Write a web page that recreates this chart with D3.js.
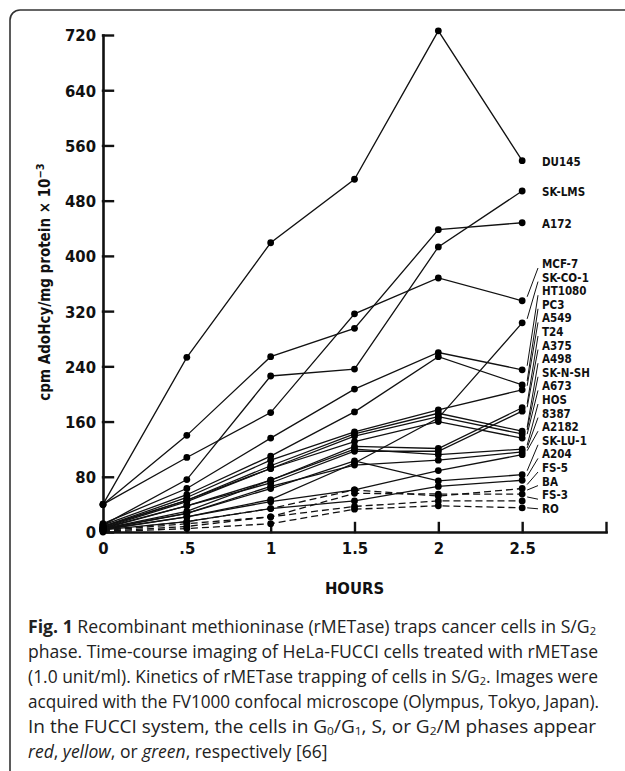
<!DOCTYPE html>
<html>
<head>
<meta charset="utf-8">
<script src="https://cdn.jsdelivr.net/npm/d3@7"></script>
<style>
  html, body { margin: 0; padding: 0; background: #fff; }
  svg { display: block; }
  .ax { font-family: "Liberation Sans Narrow", "DejaVu Sans Condensed", "Arial Narrow", sans-serif; font-stretch: condensed; font-weight: bold; fill: #111; }
  .cap { font-family: "Open Sans", "Noto Sans", sans-serif; fill: #222; }
</style>
</head>
<body>
<svg id="chart" width="625" height="771"></svg>
<script>
// ---- data ----
const hours     = [0, 0.5, 1, 1.5, 2, 2.5];
const hourTicks = [0, 0.5, 1, 1.5, 2, 2.5, 3];
const hourTickLabels = ["0", ".5", "1", "1.5", "2", "2.5", ""];
const yTicks    = [0, 80, 160, 240, 320, 400, 480, 560, 640, 720];

// cpm AdoHcy/mg protein x 10^-3 at each hour
const DU145   = [40, 253, 419, 511, 726, 538];
const SK_LMS  = [10, 76, 226, 236, 413, 494];
const A172    = [40, 140, 254, 295, 438, 448];
const MCF_7   = [40, 108, 173, 316, 368, 335];
const SK_CO_1 = [4, 22, 47, 100, 165, 303];
const HT1080  = [12, 63, 136, 207, 260, 235];
const PC3     = [10, 54, 110, 174, 254, 213];
const A549    = [8, 50, 104, 145, 177, 206];
const T24     = [6, 38, 75, 124, 121, 180];
const A375    = [5, 38, 71, 117, 117, 175];
const A498    = [8, 46, 96, 142, 172, 146];
const SK_N_SH = [7, 46, 92, 139, 167, 142];
const A673    = [6, 44, 92, 131, 160, 136];
const HOS     = [5, 30, 75, 120, 112, 120];
const C8387   = [4, 27, 66, 97, 104, 116];
const A2182   = [3, 22, 44, 61, 89, 112];
const SK_LU_1 = [5, 27, 63, 103, 74, 83];
const A204    = [3, 15, 34, 45, 66, 75];
const FS_5    = [2, 15, 34, 61, 52, 63];
const BA      = [2, 12, 22, 56, 55, 55];
const FS_3    = [1, 8, 22, 37, 45, 45];
const RO      = [0, 5, 12, 33, 38, 35];

const cellLines = ["DU145", "SK-LMS", "A172", "MCF-7", "SK-CO-1", "HT1080", "PC3", "A549", "T24",
  "A375", "A498", "SK-N-SH", "A673", "HOS", "8387", "A2182", "SK-LU-1", "A204", "FS-5", "BA", "FS-3", "RO"];
const values = [DU145, SK_LMS, A172, MCF_7, SK_CO_1, HT1080, PC3, A549, T24, A375, A498, SK_N_SH,
  A673, HOS, C8387, A2182, SK_LU_1, A204, FS_5, BA, FS_3, RO];
const dashedLines = ["FS-5", "BA", "FS-3", "RO"]; // normal cells drawn dashed
const besideLabels = ["DU145", "SK-LMS", "A172"]; // labels without leader line

const captionLines = [
  [["Fig. 1", "b"], [" Recombinant methioninase (rMETase) traps cancer cells in S/G"], ["2", "sub"]],
  [["phase. Time-course imaging of HeLa-FUCCI cells treated with rMETase"]],
  [["(1.0 unit/ml). Kinetics of rMETase trapping of cells in S/G"], ["2", "sub"], [". Images were"]],
  [["acquired with the FV1000 confocal microscope (Olympus, Tokyo, Japan)."]],
  [["In the FUCCI system, the cells in G"], ["0", "sub"], ["/G"], ["1", "sub"], [", S, or G"], ["2", "sub"], ["/M phases appear"]],
  [["red", "i"], [", "], ["yellow", "i"], [", or "], ["green", "i"], [", respectively [66]"]]
];

// ---- setup ----
const svg = d3.select("#chart");
const x = d3.scaleLinear().domain([0, 3]).range([103, 606]);
const y = d3.scaleLinear().domain([0, 720]).range([532, 35]);

// frame round figure
svg.append("rect")
  .attr("x", 10).attr("y", 10).attr("width", 700).attr("height", 900).attr("rx", 10)
  .attr("fill", "none").attr("stroke", "#333").attr("stroke-width", 1.6);

// ---- axes ----
const gy = svg.append("g").attr("transform", `translate(${x(0)},0)`)
  .call(d3.axisLeft(y).tickValues(yTicks).tickSizeInner(-10).tickSizeOuter(0).tickPadding(7).tickFormat(d3.format("d")));
gy.select(".domain").attr("stroke", "#111").attr("stroke-width", 2.6);
gy.selectAll(".tick line").attr("stroke", "#111").attr("stroke-width", 2.4);
gy.selectAll(".tick text").attr("class", "ax").attr("font-size", 16.5).attr("dy", "0.36em");

const gx = svg.append("g").attr("transform", `translate(0,${y(0)})`)
  .call(d3.axisBottom(x).tickValues(hourTicks).tickSizeInner(-9).tickSizeOuter(0).tickPadding(10)
    .tickFormat((d, i) => hourTickLabels[i]));
gx.select(".domain").attr("stroke", "#111").attr("stroke-width", 2.6);
gx.selectAll(".tick line").attr("stroke", "#111").attr("stroke-width", 2.4);
gx.selectAll(".tick text").attr("class", "ax").attr("font-size", 16.5).attr("dy", "0.71em");

svg.selectAll(".domain, .tick line").attr("stroke-linecap", "square");

// axis titles
svg.append("text").attr("class", "ax").attr("font-size", 16.5)
  .attr("x", x(1.5)).attr("y", 594).attr("text-anchor", "middle").text("HOURS");

const yt = svg.append("text").attr("class", "ax").attr("font-size", 15)
  .attr("transform", "translate(50,282) rotate(-90)").attr("text-anchor", "middle");
yt.append("tspan").text("cpm AdoHcy/mg protein × 10");
yt.append("tspan").attr("font-size", 11).attr("dy", -6).text("−3");

// ---- lines and points ----
const line = d3.line().x((d, i) => x(hours[i])).y(d => y(d));
const rows = cellLines.map((name, k) => ({ name, vals: values[k], dashed: dashedLines.includes(name) }));

const gl = svg.append("g");
gl.selectAll("path").data(rows).enter().append("path")
  .attr("d", d => line(d.vals))
  .attr("fill", "none").attr("stroke", "#111").attr("stroke-width", 1.3)
  .attr("stroke-dasharray", d => d.dashed ? "7,4" : null);

rows.forEach(r => {
  gl.selectAll(null).data(r.vals).enter().append("circle")
    .attr("cx", (d, i) => x(hours[i])).attr("cy", d => y(d)).attr("r", 3.4).attr("fill", "#000");
});

// ---- right-hand labels ----
const labX = 542;
let stackIdx = 0;
rows.forEach(r => {
  const yDot = y(r.vals[r.vals.length - 1]);
  let ly;
  if (besideLabels.includes(r.name)) {
    ly = yDot + 1;
  } else {
    ly = 264 + stackIdx * 13.6;
    stackIdx++;
    const dy = Math.max(0, Math.min(4, yDot - ly));
    svg.append("line")
      .attr("x1", x(2.5) + 5).attr("y1", yDot - dy)
      .attr("x2", labX - 4).attr("y2", ly + dy)
      .attr("stroke", "#111").attr("stroke-width", 1);
  }
  svg.append("text").attr("class", "ax").attr("font-size", 11.5)
    .attr("x", labX).attr("y", ly).attr("dy", "0.35em").text(r.name);
});

// ---- caption ----
const capWidths = [568, 570, 570, 571, 568, null];
captionLines.forEach((parts, li) => {
  const t = svg.append("text").attr("class", "cap").attr("font-size", 17.5)
    .attr("x", 28).attr("y", 633 + li * 25);
  let shifted = false;
  parts.forEach(([s, f]) => {
    const ts = t.append("tspan").text(s);
    if (f === "b") ts.attr("font-weight", "bold");
    if (f === "i") ts.attr("font-style", "italic");
    if (f === "sub") { ts.attr("font-size", 11).attr("dy", shifted ? 0 : 2); shifted = true; }
    else if (shifted) { ts.attr("dy", -2); shifted = false; }
  });
  if (capWidths[li]) t.attr("textLength", capWidths[li]).attr("lengthAdjust", "spacingAndGlyphs");
});
</script>
</body>
</html>
